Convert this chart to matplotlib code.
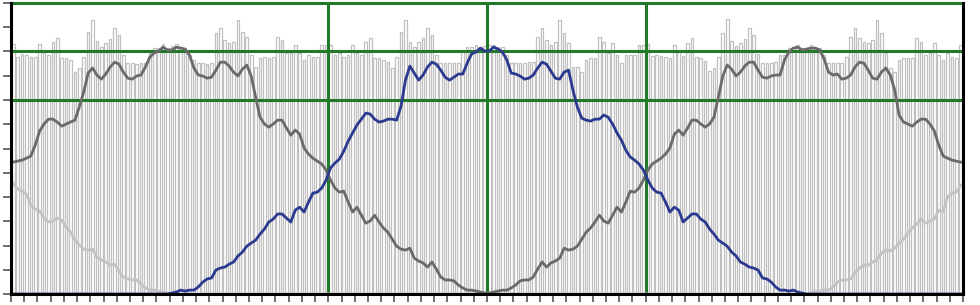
import numpy as np
import matplotlib
matplotlib.use("Agg")
import matplotlib.pyplot as plt

# total per slot (bars)
bars = [1031, 977, 989, 985, 977, 977, 1031, 998, 985, 1039,
        1055, 973, 973, 965, 915, 932, 977, 1080, 1130, 1043,
        1018, 1035, 1051, 1097, 1068, 985, 952, 952, 948, 952,
        952, 994, 1014, 1014, 1031, 1014, 1022, 1031, 1018, 1014,
        985, 965, 952, 952, 948, 952, 1076, 1097, 1047, 1035,
        1039, 1130, 1080, 1059, 985, 936, 973, 977, 973, 977,
        1059, 1047, 994, 994, 1026, 994, 965, 985, 977, 977,
        1026, 1026,
        1026, 985, 994, 977, 985, 1026, 994, 985, 1039, 1055,
        973, 973, 965, 956, 932, 977, 1080, 1130, 1039, 1018,
        1039, 1055, 1097, 1068, 985, 952, 952, 952, 952, 952,
        998, 1018, 1018, 1026, 1018, 1022, 1026, 1026, 1018, 1018,
        985, 952, 952, 952, 952, 956, 956, 1059, 1097, 1047,
        1026, 1039, 1130, 1076, 1035, 936, 936, 915, 965, 973,
        973, 1059, 1039, 994, 1035, 985, 952, 985, 985, 985,
        1026, 1026,
        1031, 981, 985, 981, 977, 973, 1026, 998, 981, 1035,
        1055, 977, 973, 960, 919, 932, 977, 1076, 1134, 1043,
        1022, 1035, 1051, 1097, 1068, 989, 952, 952, 952, 956,
        985, 985, 1014, 1018, 1026, 1014, 1014, 1026, 1014, 1014,
        985, 952, 952, 952, 952, 977, 1059, 1097, 1055, 1039,
        1035, 1047, 1130, 1076, 994, 932, 915, 965, 973, 973,
        973, 1055, 1039, 985, 998, 1035, 985, 965, 994, 977,
        973, 1026]

# dark grey series
dark = [544, 548, 552, 560, 569, 614, 672, 701, 721, 721,
        709, 692, 701, 709, 717, 771, 833, 911, 932, 903,
        886, 907, 936, 956, 948, 915, 890, 886, 899, 903,
        936, 977, 994, 1002, 1018, 1006, 1006, 1018, 1014, 1010,
        985, 932, 903, 899, 890, 894, 923, 956, 956, 940,
        915, 899, 927, 944, 899, 812, 729, 701, 688, 701,
        717, 717, 684, 655, 676, 659, 602, 577, 560, 548,
        536, 511, 470, 437, 420, 424, 379, 338, 358, 325,
        292, 301, 325, 297, 272, 255, 226, 197, 185, 181,
        189, 148, 136, 128, 111, 132, 103, 70, 58, 58,
        54, 37, 25, 16, 16, 12, 8, 4,
        4, 8, 12, 16, 16, 25, 37, 54, 58, 58,
        70, 103, 132, 111, 128, 136, 148, 189, 181, 185,
        197, 226, 255, 272, 297, 325, 301, 292, 325, 358,
        338, 379, 424, 420, 437, 470, 511, 536, 548, 560,
        577, 602, 659, 676, 655, 684, 717, 717, 701, 688,
        701, 729, 812, 899, 944, 927, 899, 915, 940, 956,
        956, 923, 894, 890, 899, 903,
        903, 965, 998, 1014, 1018, 1006, 1010, 1014, 1014, 1006,
        969, 915, 903, 907, 886, 890, 903, 936, 956, 952,
        923, 890, 886, 915, 932, 903, 841,
        738, 709, 701, 692, 709, 721, 721, 701, 672, 614,
        569, 560, 552, 548, 544]

# blue series
blue = [0] * 36 + [
    4, 8, 16, 12, 16, 16, 29, 49, 62, 66,
    99, 107, 111, 123, 132, 157, 173, 197, 210, 222,
    247, 268, 297, 309, 330, 330, 313, 297, 346, 358,
    338, 379, 416, 420, 437, 470,
    520, 540, 556, 589, 630, 664, 697, 721, 746, 742,
    721, 709, 713, 721, 721, 717, 775, 882, 940, 911,
    882, 903, 936, 956, 948, 923, 894, 882, 894, 907,
    907, 952, 990, 998, 1014, 1002,
    1002, 1018, 1010, 998, 965, 911, 907, 899, 886, 890,
    903, 932, 956, 948, 919, 890, 886, 915, 923, 841,
    771, 725, 717, 713, 721, 721, 738, 729, 701, 664,
    634, 593, 565, 552, 536, 511,
    470, 437, 420, 416, 379, 338, 358, 346, 297, 313,
    330, 330, 309, 297, 268, 247, 222, 210, 197, 173,
    157, 132, 123, 111, 107, 99, 66, 62, 49, 29,
    16, 16, 12, 16, 8, 4] + [0] * 36

# light grey series
light = [457, 433, 424, 412, 367, 350, 342, 313, 297, 301,
         313, 305, 276, 255, 222, 202, 185, 181, 185, 152,
         140, 132, 119, 123, 95, 70, 62, 58, 58, 41,
         25, 16, 16, 12, 8, 4] + [0] * 144 + [
         0, 4, 12, 12, 16, 16, 29, 49, 58, 58,
         62, 87, 107, 119, 119, 132, 140, 169, 181, 177,
         189, 210, 226, 251, 272, 288, 309, 292, 301, 309,
         346, 338, 400, 416, 420, 449]

x = np.arange(len(bars)) + 0.5

fig = plt.figure(figsize=(9.8, 3.05), dpi=100)
ax = fig.add_axes([11 / 980, 11 / 305, 952 / 980, 291 / 305])

ax.bar(x, bars, width=0.6, color="white", edgecolor="#c0c0c0", linewidth=0.9, zorder=1)

green = "#23792a"
for v in [800, 1000, 1200]:
    ax.axhline(v, color=green, lw=2.2, zorder=2, clip_on=False)
for v in [72, 108, 144]:
    ax.axvline(v, color=green, lw=2.2, zorder=2)

ax.plot(x, light, color="#c3c3c3", lw=2.0, zorder=3)
ax.plot(x, dark, color="#6a6a6a", lw=2.0, zorder=3)
ax.plot(x, blue, color="#2b3a8f", lw=2.0, zorder=3)

ax.set_xlim(0, len(bars))
ax.set_ylim(0, 1200)
ax.set_xticks(np.arange(0, len(bars) + 1, 3))
ax.set_yticks(np.arange(0, 1201, 100))
ax.set_xticklabels([])
ax.set_yticklabels([])
ax.tick_params(direction="out", length=6, width=1.2, color="#555555")

ax.spines["top"].set_visible(False)
for s in ["left", "bottom", "right"]:
    ax.spines[s].set_linewidth(2.2)
    ax.spines[s].set_color("black")
    ax.spines[s].set_zorder(4)

fig.savefig("out.png", dpi=100)
